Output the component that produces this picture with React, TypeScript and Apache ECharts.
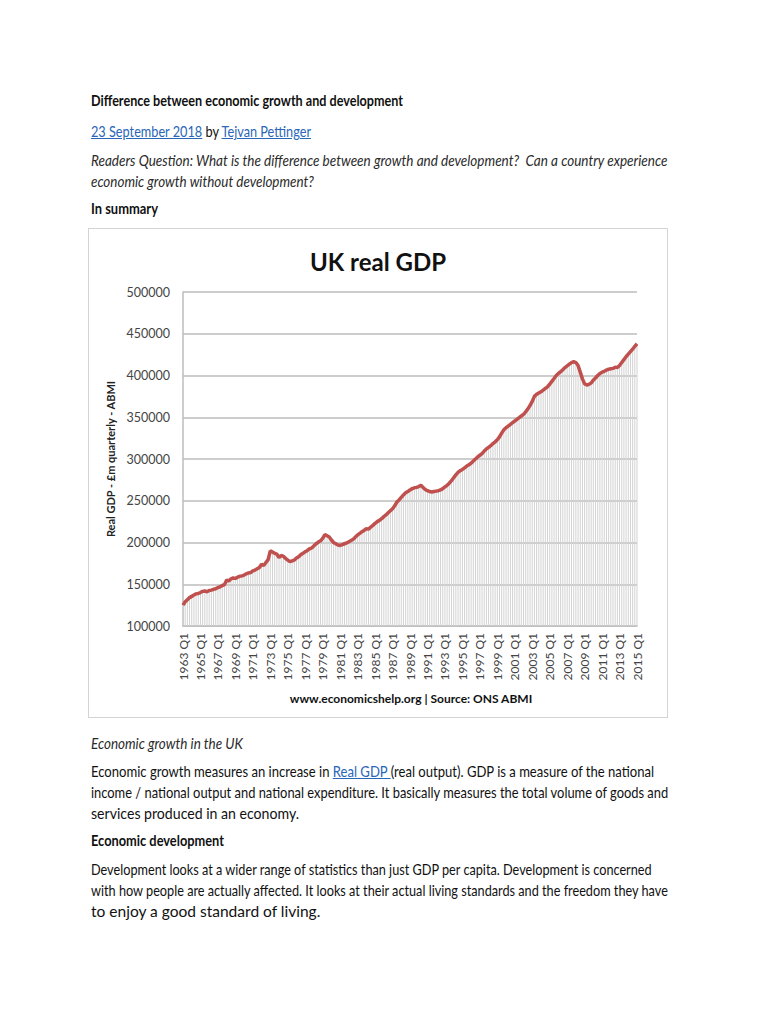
import React, { useEffect, useRef } from "react";
import * as echarts from "echarts";

// UK real GDP, £m quarterly (ABMI), 1963 Q1 .. 2015 Q1
const gdpValues: number[] = [
  125000, 129000, 131500, 134000,
  135500, 137000, 138500, 139000,
  140000, 141500, 142000, 141000,
  142500, 143000, 144000, 144500,
  146000, 147000, 148500, 149500,
  155000, 154000, 156500, 157500,
  157000, 158500, 159500, 160000,
  161000, 162500, 163500, 164000,
  166000, 167000, 168500, 170000,
  174000, 172500, 176000, 179500,
  190000, 188500, 187000, 186000,
  182000, 184500, 183500, 181000,
  179000, 177000, 178000, 179000,
  181500, 183000, 185500, 187000,
  189000, 190500, 192500, 193500,
  196000, 198500, 200500, 202000,
  205000, 209500, 208000, 206500,
  203000, 200000, 198500, 197000,
  196500, 197500, 198500, 199500,
  201000, 202500, 204000, 206500,
  209000, 211000, 213000, 214500,
  216500, 216000, 218500, 220500,
  223000, 225000, 226500, 228500,
  231000, 233000, 235500, 238000,
  240500, 244000, 248500, 251000,
  254000, 257000, 259500, 261000,
  263000, 264500, 265500, 266000,
  267000, 268500, 266000, 263500,
  262000, 261000, 260500, 261000,
  261500, 262000, 263000, 264500,
  266500, 268500, 271000, 274000,
  277500, 281000, 284000, 286000,
  287500, 289500, 291500, 293000,
  295000, 297500, 300000, 302500,
  304500, 306500, 309500, 312000,
  314000, 316000, 318500, 320500,
  323000, 326500, 331000, 335000,
  337500, 339500, 341500, 343500,
  345500, 347500, 349500, 351500,
  353500, 356500, 360000, 364000,
  369000, 375000, 377500, 379000,
  380500, 382500, 384500, 386500,
  389500, 393000, 396500, 400000,
  402500, 404500, 407000, 409500,
  411500, 413500, 415500, 416500,
  415500, 412000, 404000, 396000,
  390000, 388500, 389500, 391000,
  394500, 397000, 400000, 402500,
  404000, 405000, 406500, 407500,
  408000, 408500, 410000, 409500,
  412000, 415500, 419000, 422500,
  425500, 428500, 431500, 435000,
  438000,
];

const firstYear = 1963;
const quarterLabels: string[] = gdpValues.map(
  (_, i) => `${firstYear + Math.floor(i / 4)} Q${(i % 4) + 1}`
);

const chartTitle = "UK real GDP";
const yAxisName = "Real GDP - £m quarterly - ABMI";
const sourceText = "www.economicshelp.org | Source: ONS ABMI";
const yMin = 100000;
const yMax = 500000;
const yStep = 50000;

type Seg = { t: string; link?: boolean };
type Line = { segs: Seg[]; top: number; width: number; kind: "h" | "b" | "i" };

const lines: Line[] = [
  { segs: [{ t: "Difference between economic growth and development" }], top: 90, width: 312, kind: "h" },
  { segs: [{ t: "23 September 2018", link: true }, { t: " by " }, { t: "Tejvan Pettinger", link: true }], top: 121, width: 221, kind: "b" },
  { segs: [{ t: "Readers Question: What is the difference between growth and development?  Can a country experience" }], top: 150, width: 577, kind: "i" },
  { segs: [{ t: "economic growth without development?" }], top: 171, width: 223, kind: "i" },
  { segs: [{ t: "In summary" }], top: 198, width: 67, kind: "h" },
  { segs: [{ t: "Economic growth in the UK" }], top: 733, width: 152, kind: "i" },
  { segs: [{ t: "Economic growth measures an increase in " }, { t: "Real GDP ", link: true }, { t: "(real output). GDP is a measure of the national" }], top: 761, width: 564, kind: "b" },
  { segs: [{ t: "income / national output and national expenditure. It basically measures the total volume of goods and" }], top: 782, width: 578, kind: "b" },
  { segs: [{ t: "services produced in an economy." }], top: 803, width: 208, kind: "b" },
  { segs: [{ t: "Economic development" }], top: 830, width: 133, kind: "h" },
  { segs: [{ t: "Development looks at a wider range of statistics than just GDP per capita. Development is concerned" }], top: 859, width: 562, kind: "b" },
  { segs: [{ t: "with how people are actually affected. It looks at their actual living standards and the freedom they have" }], top: 880, width: 578, kind: "b" },
  { segs: [{ t: "to enjoy a good standard of living." }], top: 901, width: 230, kind: "b" },
];

const FONT = "Lato";
const FS = 16;

function fontFor(kind: Line["kind"]) {
  if (kind === "h") return `bold ${FS}px ${FONT}`;
  if (kind === "i") return `italic ${FS}px ${FONT}`;
  return `${FS}px ${FONT}`;
}

let measureCtx: CanvasRenderingContext2D | null = null;
function measure(text: string, font: string) {
  if (!measureCtx) measureCtx = document.createElement("canvas").getContext("2d");
  if (!measureCtx) return text.length * 7;
  measureCtx.font = font;
  return measureCtx.measureText(text).width;
}

function Chart() {
  const ref = useRef<HTMLDivElement>(null);
  useEffect(() => {
    if (!ref.current) return;
    const chart = echarts.init(ref.current, null, { renderer: "svg" });
    chart.setOption({
      animation: false,
      backgroundColor: "#ffffff",
      textStyle: { fontFamily: FONT },
      title: {
        text: chartTitle,
        left: "center",
        top: 15,
        textStyle: { fontFamily: FONT, fontWeight: "bold", fontSize: 24, color: "#111" },
      },
      grid: { left: 94, right: 30, top: 63, bottom: 91 },
      xAxis: {
        type: "category",
        data: quarterLabels,
        boundaryGap: false,
        axisLine: { lineStyle: { color: "#bdbdbd", width: 1.5 } },
        axisTick: { show: false },
        axisLabel: { interval: 7, rotate: 90, fontSize: 12, color: "#444", margin: 7, fontFamily: FONT },
        splitLine: { show: false },
      },
      yAxis: {
        type: "value",
        min: yMin,
        max: yMax,
        interval: yStep,
        axisLine: { show: true, lineStyle: { color: "#bdbdbd", width: 1.5 } },
        axisTick: { show: false },
        splitLine: { lineStyle: { color: "#bdbdbd", width: 1.5 } },
        axisLabel: {
          color: "#444",
          fontSize: 12.5,
          margin: 13,
          fontFamily: FONT,
          formatter: (v: number) => String(v),
        },
        name: yAxisName,
        nameLocation: "middle",
        nameGap: 64,
        nameTextStyle: { fontWeight: "bold", fontSize: 11, color: "#222", fontFamily: FONT },
      },
      series: [
        {
          type: "bar",
          data: gdpValues,
          barWidth: 1,
          silent: true,
          itemStyle: { color: "#d2d2d2" },
        },
        {
          type: "line",
          data: gdpValues,
          showSymbol: false,
          lineStyle: { color: "#c0504d", width: 3.5 },
        },
      ],
      graphic: [
        {
          type: "text",
          x: 322,
          y: 469,
          style: {
            text: sourceText,
            fontFamily: FONT,
            fontWeight: "bold",
            fontSize: 12,
            fill: "#111",
            textAlign: "center",
            textVerticalAlign: "middle",
          },
        },
      ],
    });
    return () => chart.dispose();
  }, []);
  return (
    <div
      ref={ref}
      style={{
        position: "absolute",
        left: 88,
        top: 228,
        width: 580,
        height: 490,
        boxSizing: "border-box",
        border: "1px solid #d4d4d4",
      }}
    />
  );
}

export default function App() {
  return (
    <div
      style={{
        position: "absolute",
        left: 0,
        top: 0,
        width: 768,
        height: 1024,
        background: "#fff",
        overflow: "hidden",
      }}
    >
      {lines.map((ln, i) => {
        const font = fontFor(ln.kind);
        const full = ln.segs.map((s) => s.t).join("");
        const natural = measure(full, font);
        const sx = natural > 0 ? ln.width / natural : 1;
        return (
          <div
            key={i}
            style={{
              position: "absolute",
              left: 91,
              top: ln.top,
              whiteSpace: "pre",
              fontFamily: FONT,
              fontSize: FS,
              lineHeight: "20px",
              fontWeight: ln.kind === "h" ? "bold" : "normal",
              fontStyle: ln.kind === "i" ? "italic" : "normal",
              color: ln.kind === "i" ? "#2a2a2a" : "#111",
              transformOrigin: "0 0",
              transform: `scaleX(${sx})`,
            }}
          >
            {ln.segs.map((s, j) =>
              s.link ? (
                <span key={j} style={{ color: "#2a66b8", textDecoration: "underline" }}>
                  {s.t}
                </span>
              ) : (
                <span key={j}>{s.t}</span>
              )
            )}
          </div>
        );
      })}
      <Chart />
    </div>
  );
}
